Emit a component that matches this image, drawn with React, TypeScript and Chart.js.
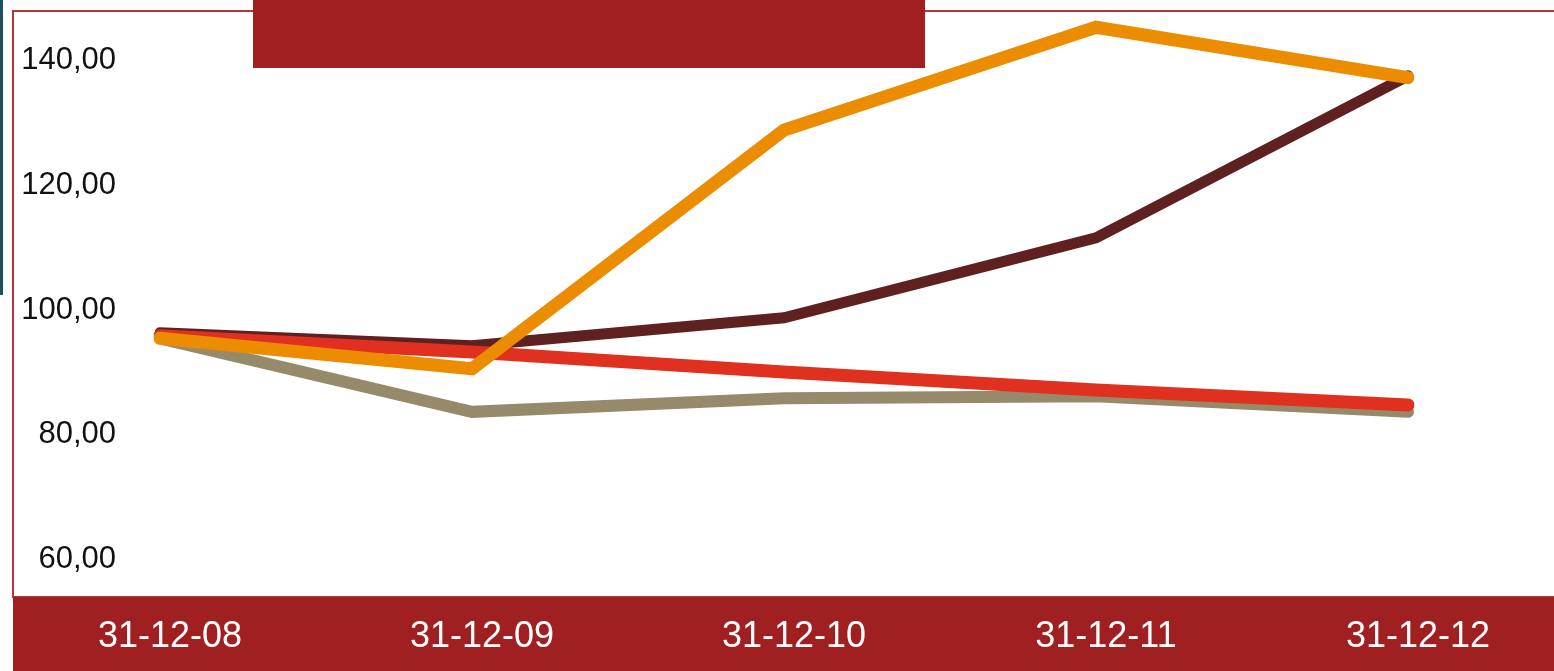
import React, { useEffect, useRef } from "react";
import { Chart, registerables } from "chart.js";

Chart.register(...registerables);

const categories = ["31-12-08", "31-12-09", "31-12-10", "31-12-11", "31-12-12"];
const orangeSeries = [95.5, 90.6, 128.9, 145.4, 137.3];
const redSeries = [95.9, 93.3, 90.1, 87.2, 84.8];
const brownSeries = [96.4, 94.3, 98.8, 111.6, 137.6];
const graySeries = [95.5, 83.7, 85.9, 86.2, 83.7];
const yTicks = [60, 80, 100, 120, 140];

const BAND = "#a01f20";

const framePlugin = {
  id: "frame",
  beforeDraw(chart: any) {
    const { ctx, chartArea, width, height } = chart;
    ctx.save();
    ctx.fillStyle = "#ffffff";
    ctx.fillRect(0, 0, width, height);
    ctx.fillStyle = "#1d4f60";
    ctx.fillRect(0, 0, 3, 295);
    ctx.strokeStyle = "#b5353a";
    ctx.lineWidth = 2;
    ctx.strokeRect(13, chartArea.top, width + 10, chartArea.bottom - chartArea.top);
    ctx.fillStyle = BAND;
    ctx.fillRect(13, chartArea.bottom, width - 13, height - chartArea.bottom);
    ctx.restore();
  },
  afterDraw(chart: any) {
    const { ctx } = chart;
    ctx.save();
    ctx.fillStyle = BAND;
    ctx.fillRect(253, 0, 672, 68);
    ctx.restore();
  },
};

export default function App() {
  const ref = useRef<HTMLCanvasElement | null>(null);

  useEffect(() => {
    document.body.style.margin = "0";
    const canvas = ref.current;
    if (!canvas) return;
    const mk = (data: number[], color: string, width: number) => ({
      data,
      borderColor: color,
      backgroundColor: color,
      borderWidth: width,
      pointRadius: 0,
      borderCapStyle: "round",
      borderJoinStyle: "miter",
      tension: 0,
      fill: false,
    });
    const chart = new Chart(canvas, {
      type: "line",
      data: {
        labels: categories,
        datasets: [
          mk(orangeSeries, "#ec8c00", 13),
          mk(redSeries, "#e03020", 13),
          mk(brownSeries, "#5e2120", 11),
          mk(graySeries, "#968a6b", 12),
        ] as any,
      },
      plugins: [framePlugin],
      options: {
        animation: false,
        responsive: false,
        maintainAspectRatio: false,
        events: [],
        layout: { padding: { top: 11, right: 146, left: 0, bottom: 0 } },
        plugins: { legend: { display: false }, tooltip: { enabled: false } },
        scales: {
          x: {
            type: "category",
            offset: false,
            grid: { display: false, drawTicks: false },
            border: { display: false },
            ticks: {
              color: "#ffffff",
              font: { family: "Liberation Sans, Arial, sans-serif", size: 36 },
              padding: 18,
              labelOffset: 10,
              maxRotation: 0,
              autoSkip: false,
            },
            afterFit(scale: any) {
              scale.height = 74;
              scale.paddingLeft = 0;
              scale.paddingRight = 0;
            },
          },
          y: {
            type: "linear",
            min: 54,
            max: 148,
            grid: { display: false, drawTicks: false },
            border: { display: false },
            afterBuildTicks(scale: any) {
              scale.ticks = yTicks.map((v) => ({ value: v }));
            },
            afterFit(scale: any) {
              scale.width = 160;
              scale.paddingTop = 0;
              scale.paddingBottom = 0;
            },
            ticks: {
              color: "#111111",
              font: { family: "Liberation Sans, Arial, sans-serif", size: 31 },
              padding: 44,
              callback: (v: any) => Number(v).toFixed(2).replace(".", ","),
            },
          },
        },
      } as any,
    });
    return () => chart.destroy();
  }, []);

  return (
    <div style={{ width: 1554, height: 671, position: "relative" }}>
      <canvas ref={ref} width={1554} height={671} style={{ width: 1554, height: 671, display: "block" }} />
    </div>
  );
}
